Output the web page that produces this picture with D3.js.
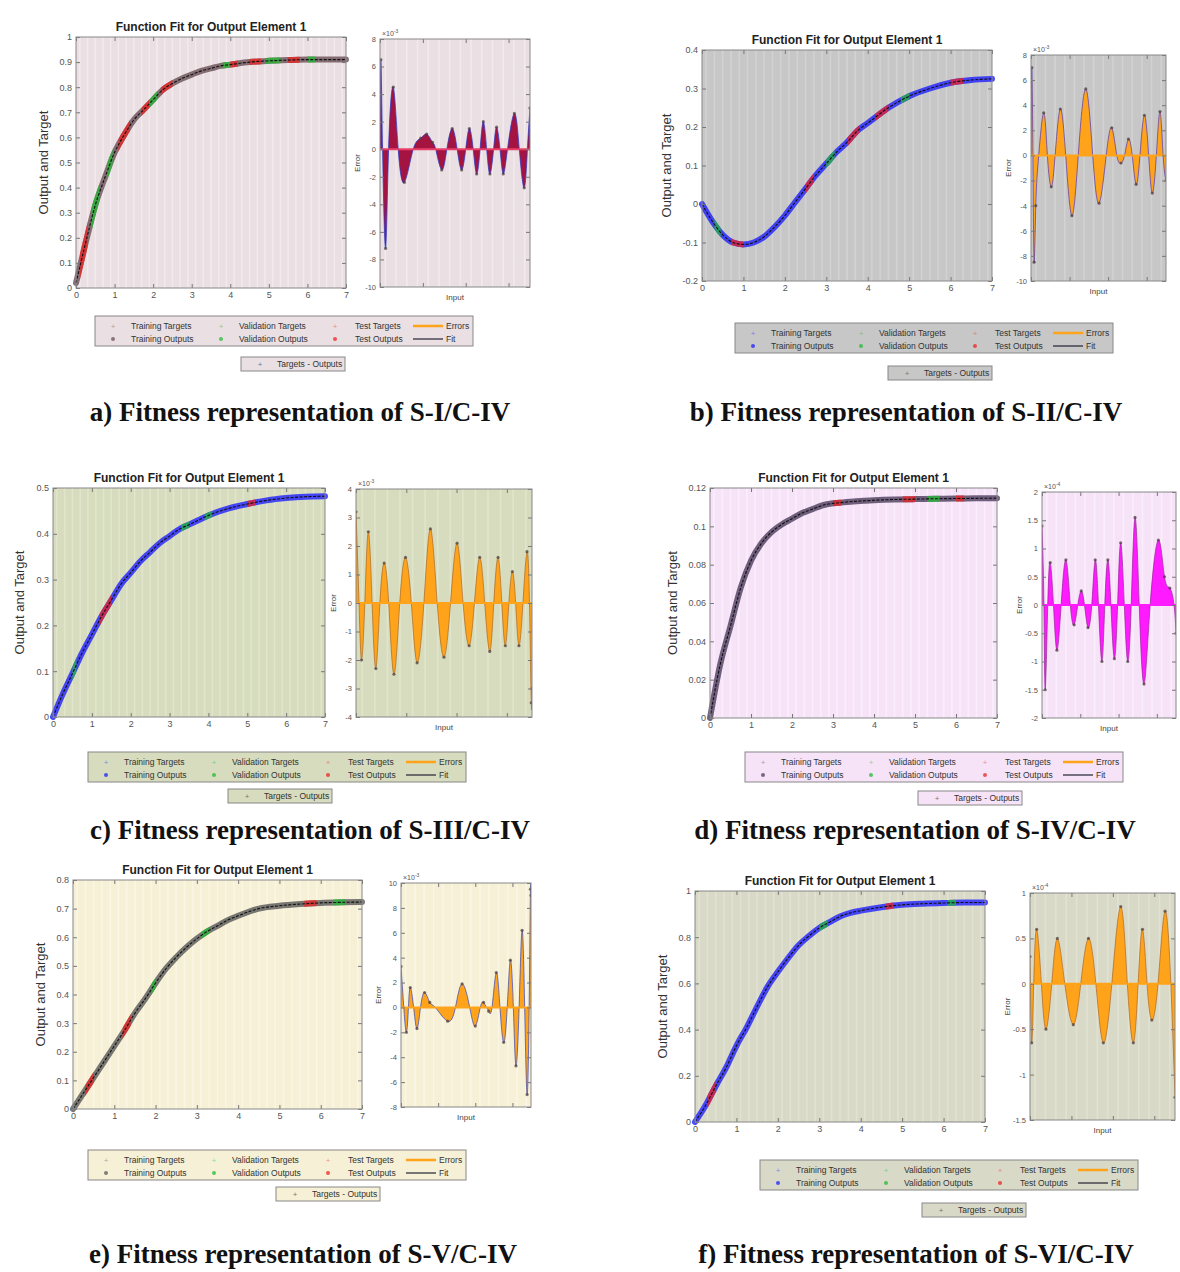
<!DOCTYPE html>
<html><head><meta charset="utf-8">
<script src="https://cdn.jsdelivr.net/npm/d3@7"></script>
<style>body{margin:0;background:#fff}svg{display:block}</style>
</head><body>
<svg id="fig" width="1180" height="1272"></svg>
<script>
// ---------- DATA ----------
const xTicks = [0,1,2,3,4,5,6,7];
const xIn = [0,0.25,0.5,0.75,1,1.25,1.5,1.75,2,2.25,2.5,2.75,3,3.25,3.5,3.75,4,4.5,5,5.5,6,6.5,7];
const outA = [0.02,0.18,0.33,0.44,0.54,0.61,0.67,0.71,0.75,0.79,0.815,0.835,0.85,0.865,0.875,0.885,0.89,0.9,0.905,0.908,0.91,0.91,0.91];
const outB = [0,-0.045,-0.08,-0.1,-0.105,-0.1,-0.085,-0.06,-0.03,0.005,0.04,0.075,0.105,0.135,0.16,0.19,0.21,0.25,0.28,0.3,0.315,0.322,0.325];
const outC = [0,0.05,0.095,0.14,0.18,0.22,0.255,0.29,0.315,0.34,0.36,0.38,0.395,0.41,0.42,0.43,0.44,0.455,0.465,0.473,0.478,0.481,0.482];
const outD = [0,0.028,0.048,0.068,0.082,0.091,0.097,0.101,0.104,0.107,0.109,0.111,0.112,0.1125,0.113,0.1133,0.1136,0.114,0.1142,0.1144,0.1145,0.1146,0.1147];
const outE = [0,0.055,0.11,0.165,0.22,0.275,0.335,0.385,0.44,0.49,0.53,0.565,0.595,0.62,0.64,0.66,0.675,0.7,0.71,0.716,0.72,0.722,0.723];
const outF = [0,0.07,0.155,0.235,0.33,0.41,0.5,0.585,0.65,0.71,0.765,0.805,0.84,0.865,0.89,0.905,0.915,0.93,0.94,0.945,0.948,0.95,0.95];

// error series [input, error in units of the exponent]
const errA = [[0,0],[0.04,6.5],[0.12,0],[0.26,-7.2],[0.4,0],[0.62,4.5],[0.85,0],[1.14,-2.4],[1.55,0],[1.9,0.8],[2.18,1.1],[2.45,0.5],[2.6,0],[2.88,-1.5],[3.12,0],[3.37,1.5],[3.6,0],[3.81,-1.5],[4.0,0],[4.17,1.5],[4.35,0],[4.51,-1.8],[4.67,0],[4.82,2.0],[4.98,0],[5.13,-1.8],[5.3,0],[5.44,1.6],[5.6,0],[5.75,-1.8],[5.95,0],[6.27,2.6],[6.5,0],[6.73,-2.8],[6.88,0],[7.0,3]];
const errB = [[0,0],[0.04,7],[0.1,0],[0.16,-8.5],[0.25,-4],[0.4,0],[0.66,3.4],[0.85,0],[1.05,-2.5],[1.25,0],[1.52,3.7],[1.8,0],[2.12,-4.8],[2.45,0],[2.84,5.3],[3.2,0],[3.53,-3.8],[3.9,0],[4.19,2.2],[4.45,0],[4.67,-0.6],[4.85,0],[5.05,1.3],[5.25,0],[5.45,-2.3],[5.65,0],[5.88,3.2],[6.1,0],[6.29,-3],[6.5,0],[6.69,3.5],[6.85,0],[7,-2]];
const errC = [[0,3.2],[0.12,0],[0.22,-2],[0.35,0],[0.49,2.5],[0.64,0],[0.79,-2.3],[0.95,0],[1.12,1.4],[1.3,0],[1.51,-2.5],[1.74,0],[1.97,1.6],[2.2,0],[2.43,-2.1],[2.7,0],[2.96,2.6],[3.23,0],[3.5,-1.9],[3.76,0],[4.02,2.1],[4.26,0],[4.5,-1.5],[4.71,0],[4.92,1.6],[5.12,0],[5.32,-1.7],[5.48,0],[5.65,1.6],[5.8,0],[5.94,-1.5],[6.08,0],[6.22,1.1],[6.35,0],[6.48,-1.5],[6.64,0],[6.8,1.8],[6.9,0],[6.97,-3.5],[7,-3]];
const errD = [[0,1.4],[0.1,0],[0.17,-1.5],[0.3,0],[0.43,0.75],[0.6,0],[0.78,-0.8],[1.0,0],[1.25,0.8],[1.48,0],[1.68,-0.35],[1.87,0],[2.05,0.25],[2.22,0],[2.4,-0.4],[2.6,0],[2.78,0.8],[2.95,0],[3.13,-1],[3.28,0],[3.44,0.8],[3.6,0],[3.78,-0.95],[3.95,0],[4.11,1.1],[4.3,0],[4.48,-1.0],[4.66,0],[4.86,1.55],[5.08,0],[5.33,-1.4],[5.65,0],[6.08,1.15],[6.4,0.5],[6.68,0.3],[6.9,0],[7,-0.5]];
const errE = [[0,3.3],[0.15,0],[0.29,-2],[0.4,0],[0.5,1.6],[0.68,0],[0.86,-1.7],[1.05,0],[1.27,1.2],[1.55,0.4],[1.85,0],[2.51,-1.1],[2.93,0],[3.29,1.9],[3.7,0],[4.0,-1.5],[4.27,0],[4.45,0.4],[4.6,0],[4.72,-0.3],[4.9,0],[5.13,2.8],[5.33,0],[5.53,-2.8],[5.72,0],[5.89,3.8],[6.05,0],[6.19,-4.7],[6.36,0],[6.52,6.2],[6.66,0],[6.79,-7],[6.9,0],[6.97,9.5],[7,9]];
const errF = [[0,0.3],[0.08,-0.65],[0.18,0],[0.32,0.6],[0.55,0],[0.77,-0.5],[1.05,0],[1.32,0.5],[1.68,0],[2.09,-0.45],[2.45,0],[2.82,0.5],[3.18,0],[3.54,-0.65],[3.95,0],[4.38,0.85],[4.7,0],[4.99,-0.65],[5.22,0],[5.43,0.6],[5.65,0],[5.88,-0.4],[6.18,0],[6.52,0.8],[6.8,0],[7,-1.25]];

// validation / test stretches of the input range
const valA = [[0.4,0.6],[0.8,0.95],[1.9,2.1],[3.8,4.0],[4.9,5.3],[6.0,6.2]];
const testA = [[0.1,0.3],[1.1,1.4],[1.7,1.9],[2.2,2.5],[4.0,4.2],[4.5,4.8],[5.5,5.8]];
const valB = [[0.3,0.45],[3.0,3.2],[4.8,5.0]];
const testB = [[0.7,1.0],[2.5,2.7],[3.5,3.8],[4.2,4.5],[6.0,6.3]];
const valC = [[0.5,0.6],[3.3,3.5],[3.9,4.1]];
const testC = [[1.2,1.5],[5.0,5.2]];
const valD = [[5.3,5.6]];
const testD = [[3.0,3.2],[4.7,5.0],[6.0,6.2]];
const valE = [[1.9,2.0],[3.1,3.3],[6.3,6.6]];
const testE = [[0.3,0.5],[1.2,1.4],[5.6,5.9]];
const valF = [[3.0,3.2],[6.1,6.3]];
const testF = [[0.3,0.5],[4.6,4.8]];

const yTicksA = [0,0.1,0.2,0.3,0.4,0.5,0.6,0.7,0.8,0.9,1];
const yTicksB = [-0.2,-0.1,0,0.1,0.2,0.3,0.4];
const yTicksC = [0,0.1,0.2,0.3,0.4,0.5];
const yTicksD = [0,0.02,0.04,0.06,0.08,0.1,0.12];
const yTicksE = [0,0.1,0.2,0.3,0.4,0.5,0.6,0.7,0.8];
const yTicksF = [0,0.2,0.4,0.6,0.8,1];
const eTicksA = [-10,-8,-6,-4,-2,0,2,4,6,8];
const eTicksB = [-10,-8,-6,-4,-2,0,2,4,6,8];
const eTicksC = [-4,-3,-2,-1,0,1,2,3,4];
const eTicksD = [-2,-1.5,-1,-0.5,0,0.5,1,1.5,2];
const eTicksE = [-8,-6,-4,-2,0,2,4,6,8,10];
const eTicksF = [-1.5,-1,-0.5,0,0.5,1];

const legendRow1 = ["Training Targets","Validation Targets","Test Targets","Errors"];
const legendRow2 = ["Training Outputs","Validation Outputs","Test Outputs","Fit"];
const captions = ["a) Fitness representation of S-I/C-IV","b) Fitness representation of S-II/C-IV","c) Fitness representation of S-III/C-IV","d) Fitness representation of S-IV/C-IV","e) Fitness representation of S-V/C-IV","f) Fitness representation of S-VI/C-IV"];

// ---------- LAYOUT ----------
const panels = [
 {out:outA, yt:yTicksA, err:errA, et:eTicksA, ex:"-3", val:valA, test:testA, cap:captions[0],
  m:{l:76,r:346,t:37,b:288}, e:{l:380,r:530,t:39,b:287}, lg:[95,316], sl:[241,357], capXY:[300,421], ylx:48,
  bg:"#eadfe2", st:"#f2eaec", tr:"#6a4f58", fill:"#a51440", outline:"#2233cc", zero:"#e8406a"},
 {out:outB, yt:yTicksB, err:errB, et:eTicksB, ex:"-3", val:valB, test:testB, cap:captions[1],
  m:{l:702,r:992,t:50,b:281}, e:{l:1031,r:1166,t:55,b:281}, lg:[735,323], sl:[888,366], capXY:[906,421], ylx:671,
  bg:"#c7c7c7", st:"#d2d2d2", tr:"#1f1fff", fill:"#ffa31a", outline:"#5533aa", zero:"#ffa31a"},
 {out:outC, yt:yTicksC, err:errC, et:eTicksC, ex:"-3", val:valC, test:testC, cap:captions[2],
  m:{l:53,r:325,t:488,b:717}, e:{l:356,r:532,t:489,b:717}, lg:[88,752], sl:[228,789], capXY:[310,839], ylx:24,
  bg:"#d6dcbd", st:"#e0e5cc", tr:"#1f1fff", fill:"#ffa31a", outline:"#aa6622", zero:"#ffa31a"},
 {out:outD, yt:yTicksD, err:errD, et:eTicksD, ex:"-4", val:valD, test:testD, cap:captions[3],
  m:{l:710,r:997,t:488,b:718}, e:{l:1042,r:1176,t:492,b:718}, lg:[745,752], sl:[918,791], capXY:[915,839], ylx:677,
  bg:"#f6e3f8", st:"#fbeefc", tr:"#4d3b5c", fill:"#ff1aff", outline:"#992299", zero:"#ff1aff"},
 {out:outE, yt:yTicksE, err:errE, et:eTicksE, ex:"-3", val:valE, test:testE, cap:captions[4],
  m:{l:73,r:362,t:880,b:1109}, e:{l:401,r:531,t:883,b:1107}, lg:[88,1150], sl:[276,1187], capXY:[303,1263], ylx:45,
  bg:"#f6f0d6", st:"#fbf6e4", tr:"#585858", fill:"#ffa31a", outline:"#3344bb", zero:"#ffa31a"},
 {out:outF, yt:yTicksF, err:errF, et:eTicksF, ex:"-4", val:valF, test:testF, cap:captions[5],
  m:{l:695,r:985,t:891,b:1122}, e:{l:1030,r:1175,t:893,b:1120}, lg:[760,1160], sl:[922,1203], capXY:[916,1263], ylx:667,
  bg:"#d9d9c8", st:"#e2e2d3", tr:"#1f1fff", fill:"#ffa31a", outline:"#aa6622", zero:"#ffa31a"}
];

const svg = d3.select("#fig");
const SANS = "'Liberation Sans', Arial, sans-serif";
let clipId = 0;

function fmt(v){ return String(+v.toFixed(3)); }

function boxAxes(g, x, y, yt, xt, showX, fs){
  const [x0,x1] = x.range(), [y1,y0] = y.range();
  const ax = [
    [d3.axisLeft(y).tickValues(yt).tickFormat(fmt), x0, 0],
    [d3.axisRight(y).tickValues(yt).tickFormat(""), x1, 0],
    [d3.axisBottom(x).tickValues(xt).tickFormat(showX?fmt:""), 0, y1],
    [d3.axisTop(x).tickValues(xt).tickFormat(""), 0, y0]
  ];
  ax.forEach(([a,tx,ty])=>{
    const s = g.append("g").attr("transform",`translate(${tx},${ty})`)
      .call(a.tickSizeInner(-4).tickSizeOuter(0).tickPadding(4));
    s.select(".domain").remove();
    s.selectAll("line").attr("stroke","#777");
    s.selectAll("text").attr("fill","#555").style("font-family",SANS).style("font-size",fs+"px");
  });
  g.append("rect").attr("x",x0).attr("y",y0).attr("width",x1-x0).attr("height",y1-y0)
    .attr("fill","none").attr("stroke","#888").attr("stroke-width",1);
}

function stripes(g, x, y, step, color){
  const [y1,y0]=y.range();
  const d = x.domain();
  g.append("g").selectAll("line").data(d3.range(d[0]+step/2, d[1], step)).join("line")
    .attr("x1",v=>x(v)).attr("x2",v=>x(v)).attr("y1",y0).attr("y2",y1)
    .attr("stroke",color).attr("stroke-width",1.6);
}

function drawPanel(p){
  const g = svg.append("g");
  const pts = xIn.map((v,i)=>[v,p.out[i]]);
  // ---- main plot ----
  const x = d3.scaleLinear().domain([0,7]).range([p.m.l,p.m.r]);
  const y = d3.scaleLinear().domain(d3.extent(p.yt)).range([p.m.b,p.m.t]);
  g.append("rect").attr("x",p.m.l).attr("y",p.m.t).attr("width",p.m.r-p.m.l).attr("height",p.m.b-p.m.t).attr("fill",p.bg);
  stripes(g,x,y,0.2,p.st);
  const line = d3.line().x(d=>x(d[0])).y(d=>y(d[1])).curve(d3.curveMonotoneX);
  g.append("path").attr("d",line(pts)).attr("fill","none").attr("stroke",p.tr)
    .attr("stroke-width",6).attr("stroke-opacity",0.8).attr("stroke-linecap","round");
  const seg = (ranges,color)=>ranges.forEach(r=>{
    const id = "cp"+(clipId++);
    g.append("clipPath").attr("id",id).append("rect")
      .attr("x",x(r[0])).attr("y",p.m.t-5).attr("width",x(r[1])-x(r[0])).attr("height",p.m.b-p.m.t+10);
    g.append("path").attr("d",line(pts)).attr("fill","none").attr("stroke",color)
      .attr("stroke-width",6).attr("stroke-opacity",0.75).attr("clip-path",`url(#${id})`);
  });
  seg(p.val,"#22bb33");
  seg(p.test,"#ee2222");
  g.append("path").attr("d",line(pts)).attr("fill","none").attr("stroke","#111").attr("stroke-width",1.1)
    .attr("stroke-dasharray","3,1.5");
  boxAxes(g,x,y,p.yt,xTicks,true,9);
  g.append("text").attr("x",(p.m.l+p.m.r)/2).attr("y",p.m.t-6).attr("text-anchor","middle")
    .style("font-family",SANS).style("font-weight","bold").style("font-size","12px").attr("fill","#222")
    .text("Function Fit for Output Element 1");
  g.append("text").attr("transform",`translate(${p.ylx},${(p.m.t+p.m.b)/2}) rotate(-90)`).attr("text-anchor","middle")
    .style("font-family",SANS).style("font-size","13px").attr("fill","#333").text("Output and Target");

  // ---- error plot ----
  const ex = d3.scaleLinear().domain([0,7]).range([p.e.l,p.e.r]);
  const ey = d3.scaleLinear().domain(d3.extent(p.et)).range([p.e.b,p.e.t]);
  g.append("rect").attr("x",p.e.l).attr("y",p.e.t).attr("width",p.e.r-p.e.l).attr("height",p.e.b-p.e.t).attr("fill",p.bg);
  stripes(g,ex,ey,0.5,p.st);
  const clipE = "ce"+(clipId++);
  g.append("clipPath").attr("id",clipE).append("rect").attr("x",p.e.l).attr("y",p.e.t).attr("width",p.e.r-p.e.l).attr("height",p.e.b-p.e.t);
  const eg = g.append("g").attr("clip-path",`url(#${clipE})`);
  const area = d3.area().x(d=>ex(d[0])).y0(ey(0)).y1(d=>ey(d[1])).curve(d3.curveNatural);
  const eline = d3.line().x(d=>ex(d[0])).y(d=>ey(d[1])).curve(d3.curveNatural);
  eg.append("path").attr("d",area(p.err)).attr("fill",p.fill).attr("stroke","none");
  eg.append("path").attr("d",eline(p.err)).attr("fill","none").attr("stroke",p.outline).attr("stroke-width",1).attr("stroke-opacity",0.7);
  eg.append("line").attr("x1",p.e.l).attr("x2",p.e.r).attr("y1",ey(0)).attr("y2",ey(0)).attr("stroke",p.zero).attr("stroke-width",2);
  eg.append("g").selectAll("circle").data(p.err.filter(d=>d[1]!==0)).join("circle")
    .attr("cx",d=>ex(d[0])).attr("cy",d=>ey(d[1])).attr("r",1.6).attr("fill","#4a3a3a").attr("opacity",0.7);
  boxAxes(g,ex,ey,p.et,[0,2,4,6],false,7.5);
  g.append("text").attr("x",p.e.l+2).attr("y",p.e.t-3).style("font-family",SANS).style("font-size","7px").attr("fill","#555")
    .text("\u00d710").append("tspan").attr("dy",-3).style("font-size","5px").text(p.ex);
  g.append("text").attr("x",(p.e.l+p.e.r)/2).attr("y",p.e.b+13).attr("text-anchor","middle")
    .style("font-family",SANS).style("font-size","8px").attr("fill","#444").text("Input");
  g.append("text").attr("transform",`translate(${p.e.l-20},${(p.e.t+p.e.b)/2}) rotate(-90)`).attr("text-anchor","middle")
    .style("font-family",SANS).style("font-size","8px").attr("fill","#444").text("Error");

  // ---- legend ----
  const [lx,ly] = p.lg;
  const L = g.append("g").attr("transform",`translate(${lx},${ly})`);
  L.append("rect").attr("width",378).attr("height",30).attr("fill",p.bg).attr("stroke","#888");
  const colsM=[18,126,240], colsT=[36,144,260];
  const cols=[p.tr,"#22bb33","#ee2222"];
  [legendRow1,legendRow2].forEach((row,ri)=>{
    const yy = ri===0?10:23;
    row.forEach((t,ci)=>{
      if(ci<3){
        if(ri===0){
          L.append("text").attr("x",colsM[ci]).attr("y",yy+3).attr("text-anchor","middle").style("font-size","8px")
            .style("font-family",SANS).attr("fill",cols[ci]).attr("opacity",0.45).text("+");
        } else {
          L.append("circle").attr("cx",colsM[ci]).attr("cy",yy).attr("r",2).attr("fill",cols[ci]).attr("opacity",0.75);
        }
        L.append("text").attr("x",colsT[ci]).attr("y",yy+3).style("font-family",SANS).style("font-size","8.5px").attr("fill","#333").text(t);
      } else {
        L.append("line").attr("x1",318).attr("x2",348).attr("y1",yy).attr("y2",yy)
          .attr("stroke",ri===0?"#ffa31a":"#223").attr("stroke-width",ri===0?2.5:1.2);
        L.append("text").attr("x",351).attr("y",yy+3).style("font-family",SANS).style("font-size","8.5px").attr("fill","#333").text(t);
      }
    });
  });
  const S = g.append("g").attr("transform",`translate(${p.sl[0]},${p.sl[1]})`);
  S.append("rect").attr("width",104).attr("height",14).attr("fill",p.bg).attr("stroke","#888");
  S.append("text").attr("x",19).attr("y",10).attr("text-anchor","middle").style("font-size","8px").style("font-family",SANS)
    .attr("fill","#777").text("+");
  S.append("text").attr("x",36).attr("y",10).style("font-family",SANS).style("font-size","8.5px").attr("fill","#333").text("Targets - Outputs");

  // ---- caption ----
  g.append("text").attr("x",p.capXY[0]).attr("y",p.capXY[1]).attr("text-anchor","middle")
    .style("font-family","'Liberation Serif','Times New Roman',serif").style("font-weight","bold").style("font-size","27px")
    .attr("fill","#111").text(p.cap);
}

panels.forEach(drawPanel);
</script>
</body></html>
